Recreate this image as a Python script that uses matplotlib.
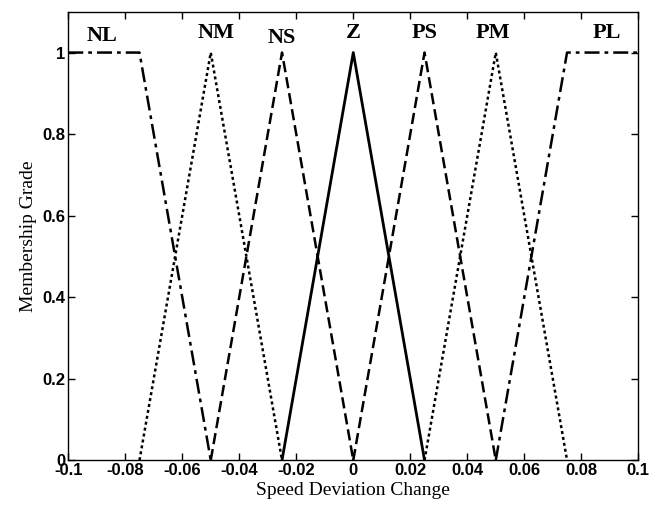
import matplotlib
matplotlib.use("Agg")
import matplotlib.pyplot as plt
import numpy as np

# Membership function definitions (breakpoints)
names = ["NL", "NM", "NS", "Z", "PS", "PM", "PL"]
mf_x = [
    [-0.1, -0.075, -0.05],
    [-0.075, -0.05, -0.025],
    [-0.05, -0.025, 0.0],
    [-0.025, 0.0, 0.025],
    [0.0, 0.025, 0.05],
    [0.025, 0.05, 0.075],
    [0.05, 0.075, 0.1],
]
mf_y = [
    [1, 1, 0],
    [0, 1, 0],
    [0, 1, 0],
    [0, 1, 0],
    [0, 1, 0],
    [0, 1, 0],
    [0, 1, 1],
]
label_x = [-0.088, -0.048, -0.025, 0.0, 0.025, 0.049, 0.089]
label_y = [1.04, 1.048, 1.035, 1.048, 1.048, 1.048, 1.048]
xticks = [-0.1, -0.08, -0.06, -0.04, -0.02, 0, 0.02, 0.04, 0.06, 0.08, 0.1]
xticklabels = ["-0.1", "-0.08", "-0.06", "-0.04", "-0.02", "0", "0.02", "0.04", "0.06", "0.08", "0.1"]
yticks = [0, 0.2, 0.4, 0.6, 0.8, 1]
yticklabels = ["0", "0.2", "0.4", "0.6", "0.8", "1"]

styles = [
    dict(linestyle=(0, (6, 2, 1.5, 2)), lw=1.8),
    dict(linestyle=(0, (1.2, 1.2)), lw=1.8),
    dict(linestyle=(0, (4.5, 2)), lw=1.8),
    dict(linestyle="-", lw=2.0),
    dict(linestyle=(0, (4.5, 2)), lw=1.8),
    dict(linestyle=(0, (1.2, 1.2)), lw=1.8),
    dict(linestyle=(0, (6, 2, 1.5, 2)), lw=1.8),
]

fig = plt.figure(figsize=(6.5, 5.13), dpi=100)
fig.patch.set_facecolor("white")
ax = fig.add_axes([0.105, 0.103, 0.877, 0.874])

for xs, ys, st in zip(mf_x, mf_y, styles):
    ax.plot(xs, ys, color="black", **st)

for n, lx, ly in zip(names, label_x, label_y):
    ax.text(lx, ly, n, ha="center", va="center", fontsize=16, fontweight="bold",
            family="Liberation Serif")

ax.set_xlim(-0.1, 0.1)
ax.set_ylim(0, 1.1)
ax.set_xticks(xticks)
ax.set_xticklabels(xticklabels)
ax.set_yticks(yticks)
ax.set_yticklabels(yticklabels)
ax.tick_params(direction="in", top=True, right=True, length=5, width=1, pad=2)
for lab in ax.get_xticklabels() + ax.get_yticklabels():
    lab.set_fontfamily(["Liberation Sans Narrow", "Liberation Sans"])
    lab.set_fontweight("bold")
    lab.set_fontsize(12)
for sp in ax.spines.values():
    sp.set_linewidth(1)

ax.set_xlabel("Speed Deviation Change", family="Liberation Serif", fontsize=14, labelpad=3)
ax.set_ylabel("Membership Grade", family="Liberation Serif", fontsize=14, labelpad=4)

fig.savefig("out.png", dpi=100, facecolor="white")
